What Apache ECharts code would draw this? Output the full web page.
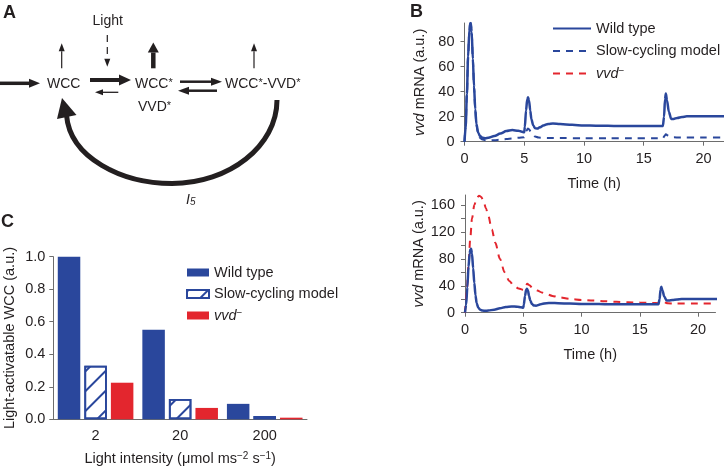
<!DOCTYPE html>
<html>
<head>
<meta charset="utf-8">
<script src="https://cdn.jsdelivr.net/npm/echarts@6/dist/echarts.min.js"></script>
<style>
html, body { margin: 0; padding: 0; background: #fff; }
#chart { width: 724px; height: 471px; }
</style>
</head>
<body>
<div id="chart"></div>
<script>
// panel B: time courses (h, a.u.)
const wtTime = [0, 0.1, 0.2, 0.3, 0.4, 0.46, 0.52, 0.6, 0.7, 0.8, 0.9, 1.0, 1.15, 1.3, 1.5, 1.75, 2.0, 2.5, 3.0, 3.5, 4.0, 4.5, 4.8, 5.0, 5.05, 5.15, 5.25, 5.32, 5.4, 5.5, 5.6, 5.75, 5.9, 6.1, 6.3, 6.6, 7.0, 7.4, 8, 9, 10, 11, 12, 13, 14, 15, 16, 16.6, 16.7, 16.78, 16.85, 16.95, 17.1, 17.3, 17.5, 17.8, 18.2, 18.6, 19, 20, 21, 22];
const wtValue = [0, 12, 38, 68, 88, 94, 95, 88, 66, 44, 26, 14, 7, 4.5, 3.2, 2.8, 3.2, 4.5, 6.5, 8.5, 9.3, 8.8, 8, 7.5, 12, 25, 34, 35.5, 33, 25, 18, 13, 10.8, 10.5, 11.5, 13, 14.2, 14.6, 14.2, 13.5, 13, 12.8, 12.7, 12.6, 12.5, 12.5, 12.5, 12.5, 20, 34, 38.5, 33, 24, 18.2, 18.2, 19, 19.8, 20.3, 20.4, 20.4, 20.4, 20.4];

const slowTime = [0, 0.1, 0.2, 0.3, 0.4, 0.46, 0.52, 0.6, 0.7, 0.8, 0.9, 1.0, 1.15, 1.3, 1.5, 1.75, 2.0, 2.5, 3.0, 3.5, 4.0, 4.5, 5.0, 5.1, 5.2, 5.3, 5.4, 5.55, 5.7, 5.9, 6.2, 7, 8, 10, 12, 14, 16, 16.6, 16.75, 16.85, 17.0, 17.2, 17.5, 18, 20, 22];
const slowValue = [0, 12, 38, 68, 88, 94, 95, 88, 66, 44, 26, 13, 6, 3, 1.8, 1.2, 1.0, 1.2, 1.6, 2.1, 2.6, 3.1, 3.6, 6, 9, 10.5, 10, 8, 6, 4.2, 3.3, 3.0, 2.9, 2.8, 2.8, 2.7, 2.7, 2.7, 4.8, 6, 5, 4, 3.5, 3.4, 3.4, 3.4];

const vvdTime = [0, 0.15, 0.3, 0.45, 0.6, 0.8, 1.0, 1.2, 1.4, 1.6, 1.8, 2.0, 2.3, 2.6, 3.0, 3.4, 3.8, 4.2, 4.6, 5.0, 5.2, 5.35, 5.5, 5.8, 6.2, 6.6, 7, 7.5, 8, 9, 10, 11, 12, 13, 14, 15, 16, 16.7, 16.9, 17.1, 17.4, 18, 20, 22];
const vvdValue = [0, 30, 70, 110, 140, 160, 170, 174, 172, 165, 155, 144, 124, 104, 80, 60, 47, 40, 36, 34, 40, 43, 41, 37, 33, 30, 27.5, 25, 23, 20.5, 19, 18, 17, 16.2, 15.5, 15, 14.5, 14, 16, 15.5, 14, 13.5, 13.5, 13.5];

const timeTicks = [0, 5, 10, 15, 20];
const topTicks = [0, 20, 40, 60, 80];
const bottomTicks = [0, 20, 40, 60, 80, 100, 120, 140, 160];
const bottomLabels = [0, 40, 80, 120, 160];

// panel C
const intensities = ['2', '20', '200'];
const wtBars = [1.0, 0.55, 0.095];
const slowBars = [0.33, 0.125, 0.02];
const vvdBars = [0.225, 0.07, 0.01];

const blue = '#2a479c';
const red = '#e3262e';
const ink = '#231f20';
const axisGray = '#6d6d6d';
const FONT = '"Liberation Sans", Arial, sans-serif';

const zip = (xs, ys) => xs.map((x, i) => [x, ys[i]]);

const rich = {
  n: { fontSize: 14.5, fontFamily: FONT, color: ink, verticalAlign: 'bottom' },
  it: { fontSize: 14.5, fontFamily: FONT, color: ink, fontStyle: 'italic', verticalAlign: 'bottom' },
  sup: { fontSize: 10, fontFamily: FONT, color: ink, verticalAlign: 'top' }
};
const textStyle = { fontSize: 14.5, fontFamily: FONT, color: ink };

function timeAxis(grid, max) {
  return {
    gridIndex: grid, type: 'value', min: 0, max: max, offset: 3.5,
    axisLine: { lineStyle: { color: axisGray, width: 1 } },
    axisTick: { length: 4, lineStyle: { color: axisGray }, customValues: timeTicks },
    axisLabel: Object.assign({ customValues: timeTicks, margin: 6 }, textStyle),
    splitLine: { show: false },
    name: 'Time (h)', nameLocation: 'middle', nameGap: 31,
    nameTextStyle: textStyle
  };
}

function mrnaAxis(grid, max, ticks, labels) {
  return {
    gridIndex: grid, type: 'value', min: 0, max: max, offset: 3,
    axisLine: { show: true, lineStyle: { color: axisGray, width: 1 } },
    axisTick: { show: true, length: 4, lineStyle: { color: axisGray }, customValues: ticks },
    axisLabel: Object.assign({ customValues: labels, margin: 7 }, textStyle),
    splitLine: { show: false },
    name: '{it|vvd}{n| mRNA (a.u.)}', nameLocation: 'middle', nameRotate: 90, nameGap: 34,
    nameTextStyle: { rich: rich }
  };
}

// panel A diagram pieces
function arrow(x1, y1, x2, y2, w, hl, hw, dash) {
  const L = Math.hypot(x2 - x1, y2 - y1);
  const ux = (x2 - x1) / L, uy = (y2 - y1) / L;
  const bx = x2 - ux * hl, by = y2 - uy * hl;
  return [
    { type: 'line', shape: { x1: x1, y1: y1, x2: bx, y2: by },
      style: { stroke: ink, lineWidth: w, lineDash: dash || null } },
    { type: 'polygon',
      shape: { points: [[x2, y2], [bx - uy * hw / 2, by + ux * hw / 2], [bx + uy * hw / 2, by - ux * hw / 2]] },
      style: { fill: ink } }
  ];
}

function label(x, y, text, align, extra) {
  return {
    type: 'text', x: x, y: y,
    style: Object.assign({
      text: text, fill: ink, font: '14px ' + FONT,
      align: align || 'center', verticalAlign: 'middle',
      textAlign: align || 'center', textVerticalAlign: 'middle',
      rich: {
        n: { fontSize: 14, fontFamily: FONT, fill: ink, verticalAlign: 'bottom' },
        s: { fontSize: 11, fontFamily: FONT, fill: ink, verticalAlign: 'top' },
        i: { fontSize: 14, fontFamily: FONT, fill: ink, fontStyle: 'italic', verticalAlign: 'top' },
        b: { fontSize: 10, fontFamily: FONT, fill: ink, fontStyle: 'italic', verticalAlign: 'bottom' }
      }
    }, extra || {})
  };
}

const diagram = [].concat(
  arrow(0, 83.3, 40, 83.3, 3.5, 11, 9),
  arrow(90, 80, 131, 80, 4, 12, 11),
  arrow(118.3, 92.3, 95, 92.3, 1.3, 8, 6),
  arrow(180, 81.7, 222, 81.7, 2.5, 11, 8),
  arrow(217, 90.7, 178, 90.7, 2.5, 11, 8),
  arrow(61.7, 68.3, 61.7, 43.3, 1.2, 8, 6),
  arrow(153.3, 68.3, 153.3, 42.5, 4.5, 10, 11),
  arrow(254, 68.3, 254, 43.3, 1.2, 8, 6),
  arrow(107.3, 35, 107.3, 66.7, 1.2, 8, 6, [7, 5]),
  [
    { type: 'bezierCurve',
      shape: { x1: 277, y1: 100, cpx1: 277, cpy1: 146, cpx2: 229, cpy2: 183.5, x2: 172, y2: 183.5 },
      style: { stroke: ink, lineWidth: 5, fill: null } },
    { type: 'bezierCurve',
      shape: { x1: 172, y1: 183.5, cpx1: 122, cpy1: 183.5, cpx2: 70, cpy2: 158, x2: 66.5, y2: 115 },
      style: { stroke: ink, lineWidth: 5, fill: null } },
    { type: 'polygon', shape: { points: [[62, 98], [57, 119], [76.5, 115]] }, style: { fill: ink } },
    label(63.7, 84, 'WCC'),
    label(135, 84, '{n|WCC}{s|*}', 'left'),
    label(138, 107, '{n|VVD}{s|*}', 'left'),
    label(225, 84, '{n|WCC}{s|*}{n|-VVD}{s|*}', 'left'),
    label(107.7, 20.7, 'Light'),
    label(186, 200, '{i|I}{b|5}', 'left'),
    label(3, 13, 'A', 'left', { font: 'bold 18px ' + FONT }),
    label(410, 12, 'B', 'left', { font: 'bold 18px ' + FONT }),
    label(1, 222, 'C', 'left', { font: 'bold 18px ' + FONT })
  ]
);

const legendNames = {
  'Wild type': 'Wild type',
  'Slow-cycling model': 'Slow-cycling model',
  'vvd': '{it|vvd}{sup|−}',
  'wtC': 'Wild type',
  'slowC': 'Slow-cycling model',
  'vvdC': '{it|vvd}{sup|−}'
};

const chart = echarts.init(document.getElementById('chart'));
const option = {
  animation: false,
  backgroundColor: '#fff',
  textStyle: { fontFamily: FONT },
  graphic: { elements: diagram },
  grid: [
    { left: 464.5, top: 23, width: 259.3, height: 118.7 },
    { left: 465, top: 195, width: 250.5, height: 117.7 },
    { left: 53.3, top: 256.7, width: 253.7, height: 162.6 }
  ],
  legend: [
    {
      data: ['Wild type', 'Slow-cycling model', 'vvd'],
      orient: 'vertical', left: 552, top: 21, padding: 0,
      itemWidth: 38, itemHeight: 14, itemGap: 7.5,
      itemStyle: { opacity: 0, borderWidth: 0 },
      formatter: (n) => legendNames[n],
      textStyle: Object.assign({ rich: rich }, textStyle)
    },
    {
      data: ['wtC', 'slowC', 'vvdC'],
      orient: 'vertical', left: 186, top: 265, padding: 0,
      icon: 'rect', itemWidth: 22, itemHeight: 8, itemGap: 6.5,
      formatter: (n) => legendNames[n],
      textStyle: Object.assign({ rich: rich }, textStyle)
    }
  ],
  xAxis: [
    timeAxis(0, 21.7),
    timeAxis(1, 21.5),
    {
      gridIndex: 2, type: 'category', data: intensities,
      axisLine: { lineStyle: { color: axisGray, width: 1 } },
      axisTick: { length: 4, lineStyle: { color: axisGray } },
      axisLabel: Object.assign({ margin: 9 }, textStyle),
      name: '{n|Light intensity (μmol ms}{sup|−2}{n| s}{sup|−1}{n|)}',
      nameLocation: 'middle', nameGap: 32,
      nameTextStyle: { rich: rich }
    }
  ],
  yAxis: [
    mrnaAxis(0, 95, topTicks, topTicks),
    mrnaAxis(1, 175, bottomTicks, bottomLabels),
    {
      gridIndex: 2, type: 'value', min: 0, max: 1, interval: 0.2,
      axisLine: { show: true, lineStyle: { color: axisGray, width: 1 } },
      axisTick: { show: true, length: 4, lineStyle: { color: axisGray } },
      axisLabel: Object.assign({ margin: 8, formatter: (v) => v.toFixed(1) }, textStyle),
      splitLine: { show: false },
      name: 'Light-activatable WCC (a.u.)', nameLocation: 'middle', nameRotate: 90, nameGap: 36,
      nameTextStyle: textStyle
    }
  ],
  series: [
    {
      name: 'Slow-cycling model', type: 'line', xAxisIndex: 0, yAxisIndex: 0,
      data: zip(slowTime, slowValue), symbol: 'none', smooth: 0.3, smoothMonotone: 'x',
      lineStyle: { color: blue, width: 2, type: [7, 6] }, itemStyle: { color: blue }
    },
    {
      name: 'Wild type', type: 'line', xAxisIndex: 0, yAxisIndex: 0,
      data: zip(wtTime, wtValue), symbol: 'none', smooth: 0.3, smoothMonotone: 'x',
      lineStyle: { color: blue, width: 2.5 }, itemStyle: { color: blue }
    },
    {
      name: 'vvd', type: 'line', xAxisIndex: 1, yAxisIndex: 1,
      data: zip(vvdTime, vvdValue), symbol: 'none', smooth: 0.3, smoothMonotone: 'x',
      lineStyle: { color: red, width: 2, type: [7, 6] }, itemStyle: { color: red }
    },
    {
      name: 'Wild type', type: 'line', xAxisIndex: 1, yAxisIndex: 1,
      data: zip(wtTime, wtValue), symbol: 'none', smooth: 0.3, smoothMonotone: 'x',
      lineStyle: { color: blue, width: 2.5 }, itemStyle: { color: blue }
    },
    {
      name: 'wtC', type: 'bar', xAxisIndex: 2, yAxisIndex: 2,
      data: wtBars, barWidth: 22.5, barGap: '18%',
      itemStyle: { color: blue }
    },
    {
      name: 'slowC', type: 'bar', xAxisIndex: 2, yAxisIndex: 2,
      data: slowBars, barWidth: 22.5, barGap: '18%',
      itemStyle: {
        color: '#fff', borderColor: blue, borderWidth: 1.8,
        decal: { symbol: 'rect', symbolSize: 1, color: blue, dashArrayX: [1, 0], dashArrayY: [1.5, 12], rotation: -Math.PI / 4 }
      }
    },
    {
      name: 'vvdC', type: 'bar', xAxisIndex: 2, yAxisIndex: 2,
      data: vvdBars, barWidth: 22.5, barGap: '18%',
      itemStyle: { color: red }
    }
  ]
};
chart.setOption(option);
</script>
</body>
</html>
